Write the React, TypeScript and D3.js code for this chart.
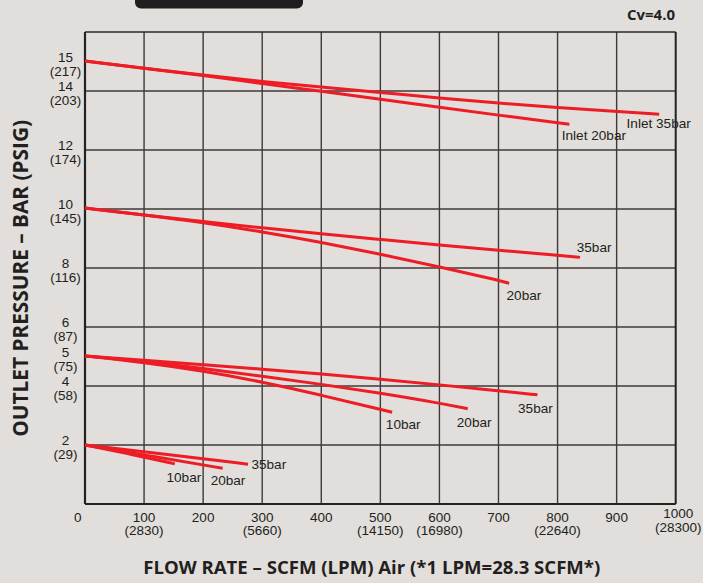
import React from "react";
import * as d3 from "d3";

// ---------- data ----------
const xTicks = [0, 100, 200, 300, 400, 500, 600, 700, 800, 900, 1000];
const xTickSub = ["", "(2830)", "", "(5660)", "", "(14150)", "(16980)", "", "(22640)", "", "(28300)"];
const yTicks = [2, 4, 5, 6, 8, 10, 12, 14, 15];
const yTickSub = ["(29)", "(58)", "(75)", "(87)", "(116)", "(145)", "(174)", "(203)", "(217)"];
const yGrid = [2, 4, 6, 8, 10, 12, 14];

// [flow SCFM, outlet pressure bar]
const inlet35: [number, number][] = [[0, 15.02], [100, 14.77], [200, 14.54], [300, 14.32], [400, 14.13], [500, 13.95], [600, 13.76], [700, 13.59], [800, 13.43], [900, 13.31], [972, 13.21]];
const inlet20: [number, number][] = [[0, 15.02], [100, 14.77], [200, 14.53], [300, 14.25], [400, 13.99], [500, 13.72], [600, 13.45], [700, 13.18], [820, 12.87]];
const out10_35: [number, number][] = [[0, 10.03], [100, 9.8], [200, 9.57], [300, 9.36], [400, 9.16], [500, 8.97], [600, 8.78], [700, 8.6], [800, 8.43], [838, 8.36]];
const out10_20: [number, number][] = [[0, 10.03], [100, 9.8], [200, 9.54], [300, 9.23], [400, 8.87], [500, 8.47], [600, 8.04], [700, 7.59], [718, 7.48]];
const out5_35: [number, number][] = [[0, 5.02], [100, 4.87], [200, 4.72], [300, 4.57], [400, 4.41], [500, 4.23], [600, 4.04], [700, 3.84], [766, 3.7]];
const out5_20: [number, number][] = [[0, 5.02], [100, 4.83], [200, 4.6], [300, 4.33], [400, 4.06], [500, 3.76], [600, 3.42], [648, 3.23]];
const out5_10: [number, number][] = [[0, 5.02], [100, 4.8], [200, 4.51], [300, 4.14], [400, 3.69], [500, 3.21], [520, 3.11]];
const out2_35: [number, number][] = [[0, 2.0], [140, 1.68], [276, 1.35]];
const out2_20: [number, number][] = [[0, 2.0], [120, 1.6], [233, 1.21]];
const out2_10: [number, number][] = [[0, 2.0], [80, 1.68], [152, 1.36]];

const seriesNames = ["Inlet 35bar", "Inlet 20bar", "35bar", "20bar", "35bar", "20bar", "10bar", "35bar", "20bar", "10bar"];
const seriesData = [inlet35, inlet20, out10_35, out10_20, out5_35, out5_20, out5_10, out2_35, out2_20, out2_10];

// label offsets from line end (px) – layout only
const labelOffsets: [number, number][] = [
  [-32.6, 14], [-7.6, 16], [-3.3, -5.3], [-2.6, 16.7], [-19.4, 17.7],
  [-11, 18.3], [-6.3, 17], [3.4, 5], [-12, 16.7], [-8.3, 17.7],
];

const W = 703;
const H = 583;
const L = 85, R = 675.7, T = 32, B = 504;
const bg = "#e1dedb";
const red = "#ee1c25";
const ink = "#231f20";
const tickFont = "'Liberation Sans', Arial, sans-serif";
const titleFont = "'Open Sans', 'Noto Sans', sans-serif";

export default function App() {
  const x = d3.scaleLinear().domain([0, 1000]).range([L, R]);
  const y = d3.scaleLinear().domain([0, 16]).range([B, T]);
  const line = d3
    .line<[number, number]>()
    .x((d) => x(d[0]))
    .y((d) => y(d[1]))
    .curve(d3.curveBasis);

  return (
    <svg
      width={W}
      height={H}
      style={{ position: "absolute", left: 0, top: 0, display: "block" }}
    >
      <rect x={0} y={0} width={W} height={H} fill={bg} />
      <rect x={135} y={-12} width={168} height={20.5} rx={6} fill="#1f1d1e" />

      {/* grid */}
      {xTicks.slice(1, -1).map((t) => (
        <line key={"gx" + t} x1={x(t)} x2={x(t)} y1={T} y2={B} stroke="#3c3a3a" strokeWidth={1.4} />
      ))}
      {yGrid.map((t) => (
        <line key={"gy" + t} x1={L} x2={R} y1={y(t)} y2={y(t)} stroke="#3c3a3a" strokeWidth={1.4} />
      ))}
      {/* border */}
      <line x1={L} x2={R} y1={T} y2={T} stroke="#2a2828" strokeWidth={1.6} />
      <line x1={L} x2={L} y1={T} y2={B} stroke="#222" strokeWidth={2.2} />
      <line x1={R} x2={R} y1={T} y2={B} stroke="#222" strokeWidth={2} />
      <line x1={L} x2={R} y1={B} y2={B} stroke="#222" strokeWidth={2.2} />

      {/* series */}
      {seriesData.map((d, i) => (
        <path key={"s" + i} d={line(d) || ""} fill="none" stroke={red} strokeWidth={3} strokeLinecap="butt" />
      ))}
      {seriesData.map((d, i) => {
        const last = d[d.length - 1];
        return (
          <text
            key={"l" + i}
            x={x(last[0]) + labelOffsets[i][0]}
            y={y(last[1]) + labelOffsets[i][1]}
            fontFamily={tickFont}
            fontSize={13.6}
            fill={ink}
          >
            {seriesNames[i]}
          </text>
        );
      })}

      {/* y ticks */}
      {yTicks.map((t, i) => (
        <g key={"yt" + t} fontFamily={tickFont} fontSize={13.5} fill={ink} textAnchor="middle">
          <text x={65.5} y={y(t)}>{t}</text>
          <text x={65.5} y={y(t) + 14}>{yTickSub[i]}</text>
        </g>
      ))}

      {/* x ticks */}
      {xTicks.map((t, i) => {
        const dx = t === 0 ? -7.3 : t === 1000 ? 2.5 : 0;
        const dy = t === 1000 ? -3.4 : 0;
        return (
          <g key={"xt" + t} fontFamily={tickFont} fontSize={13.5} fill={ink} textAnchor="middle">
            <text x={x(t) + dx} y={521.7 + dy}>{t}</text>
            {xTickSub[i] && <text x={x(t) + dx} y={535.3 + dy}>{xTickSub[i]}</text>}
          </g>
        );
      })}

      {/* titles */}
      <text
        x={143.3}
        y={574.3}
        fontFamily={titleFont}
        fontWeight={700}
        fontSize={18.5}
        fill={ink}
        textLength={457}
        lengthAdjust="spacingAndGlyphs"
      >
        FLOW RATE – SCFM (LPM) Air (*1 LPM=28.3 SCFM*)
      </text>
      <text
        transform="translate(28,436.7) rotate(-90)"
        x={0}
        y={0}
        fontFamily={titleFont}
        fontWeight={700}
        fontSize={20.5}
        fill={ink}
        textLength={316.7}
        lengthAdjust="spacingAndGlyphs"
      >
        OUTLET PRESSURE – BAR (PSIG)
      </text>
      <text
        x={675}
        y={20}
        textAnchor="end"
        fontFamily={titleFont}
        fontWeight={700}
        fontSize={14.5}
        fill={ink}
        textLength={48}
        lengthAdjust="spacingAndGlyphs"
      >
        Cv=4.0
      </text>
    </svg>
  );
}
